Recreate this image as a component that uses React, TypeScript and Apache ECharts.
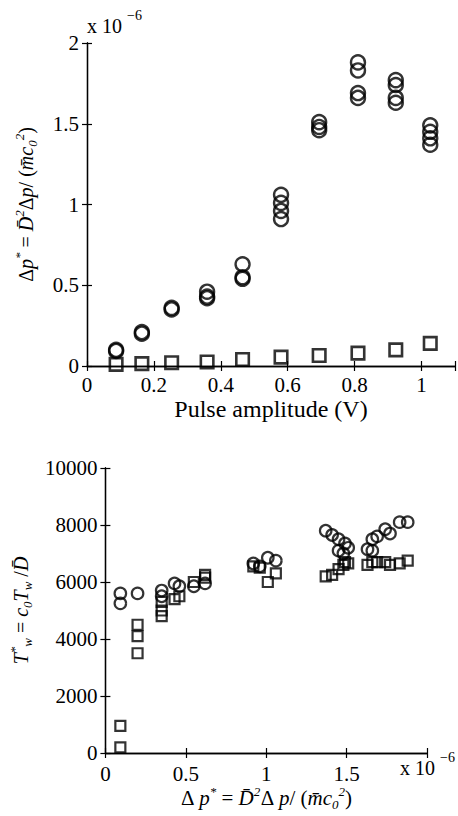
import React, { useEffect, useRef } from "react";
import * as echarts from "echarts";

// Top panel: pulse amplitude (V) vs Δp* (x 1e-6)
const ampCircles: [number, number][] = [
  [0.087, 0.1], [0.087, 0.093],
  [0.164, 0.2], [0.164, 0.21],
  [0.253, 0.35], [0.253, 0.36],
  [0.359, 0.46], [0.359, 0.43], [0.359, 0.42],
  [0.465, 0.63], [0.465, 0.55], [0.465, 0.54],
  [0.58, 1.06], [0.58, 1.01], [0.58, 0.96], [0.58, 0.91],
  [0.694, 1.51], [0.694, 1.48], [0.694, 1.46],
  [0.81, 1.88], [0.81, 1.83], [0.81, 1.69], [0.81, 1.66],
  [0.923, 1.77], [0.923, 1.74], [0.923, 1.66], [0.923, 1.63],
  [1.026, 1.49], [1.026, 1.45], [1.026, 1.41], [1.026, 1.37],
];
const ampSquares: [number, number][] = [
  [0.087, 0.01], [0.164, 0.015], [0.253, 0.02], [0.359, 0.025], [0.465, 0.04],
  [0.58, 0.055], [0.694, 0.065], [0.81, 0.08], [0.923, 0.1], [1.026, 0.14],
];

// Bottom panel: Δp* (x 1e-6) vs T*_w
const twCircles: [number, number][] = [
  [0.093, 5600], [0.093, 5250], [0.2, 5600], [0.35, 5700], [0.35, 5500],
  [0.43, 5950], [0.46, 5850], [0.55, 5850], [0.62, 5950],
  [0.92, 6650], [0.96, 6550], [1.01, 6850], [1.06, 6750],
  [1.37, 7800], [1.41, 7650], [1.45, 7500], [1.49, 7350], [1.45, 7100], [1.48, 7000], [1.51, 7200],
  [1.63, 7150], [1.66, 7100], [1.66, 7500], [1.69, 7600], [1.74, 7850], [1.77, 7700],
  [1.83, 8100], [1.88, 8100],
];
const twSquares: [number, number][] = [
  [0.093, 950], [0.093, 200], [0.2, 4500], [0.2, 4100], [0.2, 3500],
  [0.35, 5300], [0.35, 5000], [0.35, 4800], [0.43, 5400], [0.46, 5500],
  [0.55, 6000], [0.62, 6150], [0.62, 6250],
  [0.92, 6550], [0.96, 6500], [1.01, 6000], [1.06, 6300],
  [1.37, 6200], [1.41, 6250], [1.45, 6450], [1.48, 6600], [1.49, 6700], [1.51, 6650],
  [1.63, 6600], [1.66, 6700], [1.69, 6700], [1.74, 6700], [1.77, 6600], [1.83, 6650], [1.88, 6750],
];

const topXTicks = [0, 0.2, 0.4, 0.6, 0.8, 1];
const botXTicks = [0, 0.5, 1, 1.5];

const SERIF = "Liberation Serif";

export default function App() {
  const ref = useRef<HTMLDivElement>(null);
  useEffect(() => {
    if (!ref.current) return;
    const chart = echarts.init(ref.current, null, { renderer: "svg" });
    const axLine = { show: true, lineStyle: { color: "#000", width: 1.3 } };
    const tickIn = { show: true, inside: true, length: 5, lineStyle: { color: "#000", width: 1.2 } };
    const lbl = { color: "#000", fontFamily: SERIF, fontSize: 21 };
    const fmt = (allowed: number[]) => (v: number) => {
      const r = parseFloat(v.toFixed(3));
      return allowed.some((a) => Math.abs(a - r) < 1e-6) ? String(r) : "";
    };
    const mk = (big: number, small: number, lh: number) => ({
      n: { fontFamily: SERIF, fontSize: big, color: "#000", lineHeight: lh },
      i: { fontFamily: SERIF, fontSize: big, fontStyle: "italic", color: "#000", lineHeight: lh },
      s: { fontFamily: SERIF, fontSize: small, fontStyle: "italic", color: "#000", lineHeight: small, verticalAlign: "top" },
      b: { fontFamily: SERIF, fontSize: small, fontStyle: "italic", color: "#000", lineHeight: small, verticalAlign: "bottom" },
    });
    const dpName = "{n|Δ}{i|p}{s|*}{n| = }{i|D\u0304}{s|2}{n|Δ}{i|p}{n|/ (}{i|m\u0304c}{b|0}{s|2}{n|)}";
    const dpName2 = "{n|Δ }{i|p}{s|*}{n| = }{i|D\u0304}{s|2}{n|Δ }{i|p}{n|/ (}{i|m\u0304c}{b|0}{s|2}{n|)}";
    const twName = "{i|T}{s|*}{b|w}{n| = }{i|c}{b|0}{i|T}{b|w}{n| /}{i|D\u0304}";

    const option: any = {
      animation: false,
      backgroundColor: "#fff",
      grid: [
        { left: 87, top: 43, width: 370, height: 323 },
        { left: 104, top: 468, width: 323, height: 285 },
      ],
      xAxis: [
        {
          gridIndex: 0, type: "value", min: 0, max: 1.1, interval: 0.2, position: "bottom",
          axisLine: axLine, axisTick: tickIn, splitLine: { show: false },
          axisLabel: { ...lbl, margin: 8, formatter: fmt(topXTicks) },
          name: "Pulse amplitude (V)", nameLocation: "middle", nameGap: 31,
          nameTextStyle: { fontFamily: SERIF, fontSize: 24, color: "#000" },
        },
        {
          gridIndex: 0, type: "value", min: 0, max: 1.1, interval: 0.2, position: "top",
          axisLine: axLine, axisTick: tickIn, splitLine: { show: false }, axisLabel: { show: false },
        },
        {
          gridIndex: 1, type: "value", min: 0, max: 2, interval: 0.5, position: "bottom",
          axisLine: axLine, axisTick: tickIn, splitLine: { show: false },
          axisLabel: { ...lbl, margin: 10, formatter: fmt(botXTicks) },
          name: dpName2, nameLocation: "middle", nameGap: 24,
          nameTextStyle: { rich: mk(21, 13, 26) },
        },
        {
          gridIndex: 1, type: "value", min: 0, max: 2, interval: 0.5, position: "top",
          axisLine: axLine, axisTick: tickIn, splitLine: { show: false }, axisLabel: { show: false },
        },
      ],
      yAxis: [
        {
          gridIndex: 0, type: "value", min: 0, max: 2, interval: 0.5, position: "left",
          axisLine: axLine, axisTick: tickIn, splitLine: { show: false },
          axisLabel: { ...lbl, margin: 8, formatter: (v: number) => String(parseFloat(v.toFixed(2))) },
          name: dpName, nameLocation: "middle", nameGap: 48, nameRotate: 90,
          nameTextStyle: { rich: mk(20, 13, 26) },
        },
        {
          gridIndex: 0, type: "value", min: 0, max: 2, interval: 0.5, position: "right",
          axisLine: axLine, axisTick: tickIn, splitLine: { show: false }, axisLabel: { show: false },
        },
        {
          gridIndex: 1, type: "value", min: 0, max: 10000, interval: 2000, position: "left",
          axisLine: axLine, axisTick: tickIn, splitLine: { show: false },
          axisLabel: { ...lbl, margin: 8, formatter: (v: number) => String(v) },
          name: twName, nameLocation: "middle", nameGap: 68, nameRotate: 90,
          nameTextStyle: { rich: mk(20, 13, 26) },
        },
        {
          gridIndex: 1, type: "value", min: 0, max: 10000, interval: 2000, position: "right",
          axisLine: axLine, axisTick: tickIn, splitLine: { show: false }, axisLabel: { show: false },
        },
      ],
      series: [
        {
          type: "scatter", xAxisIndex: 0, yAxisIndex: 0, data: ampCircles, symbol: "circle", symbolSize: 14,
          itemStyle: { color: "rgba(0,0,0,0)", borderColor: "#000", borderWidth: 2.4 },
        },
        {
          type: "scatter", xAxisIndex: 0, yAxisIndex: 0, data: ampSquares, symbol: "rect", symbolSize: 12.5,
          itemStyle: { color: "rgba(0,0,0,0)", borderColor: "#000", borderWidth: 2.6 },
        },
        {
          type: "scatter", xAxisIndex: 2, yAxisIndex: 2, data: twCircles, symbol: "circle", symbolSize: 11.5,
          itemStyle: { color: "rgba(0,0,0,0)", borderColor: "#000", borderWidth: 2.2 },
        },
        {
          type: "scatter", xAxisIndex: 2, yAxisIndex: 2, data: twSquares, symbol: "rect", symbolSize: 10,
          itemStyle: { color: "rgba(0,0,0,0)", borderColor: "#000", borderWidth: 2.2 },
        },
      ],
      graphic: [
        { type: "text", left: 87, top: 16, style: { text: "x 10", fontFamily: SERIF, fontSize: 20, fill: "#000" } },
        { type: "text", left: 127, top: 8, style: { text: "−6", fontFamily: SERIF, fontSize: 14, fill: "#000" } },
        { type: "text", left: 400, top: 758, style: { text: "x 10", fontFamily: SERIF, fontSize: 20, fill: "#000" } },
        { type: "text", left: 440, top: 750, style: { text: "−6", fontFamily: SERIF, fontSize: 14, fill: "#000" } },
      ],
    };
    chart.setOption(option);
    return () => chart.dispose();
  }, []);
  return (
    <div
      ref={ref}
      style={{ position: "fixed", left: 0, top: 0, width: 458, height: 816, background: "#fff" }}
    />
  );
}
